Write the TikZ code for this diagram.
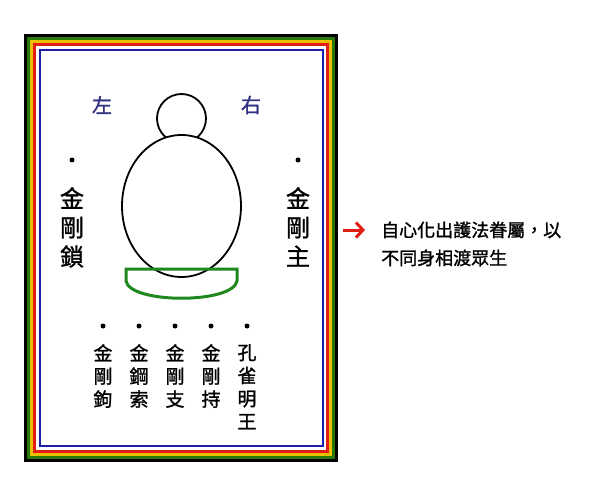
\documentclass[tikz,border=0pt]{standalone}
\usepackage{fontspec}
\newfontfamily\cjk[FakeBold=1.3]{Noto Sans CJK TC}
\usetikzlibrary{arrows.meta,positioning,calc}
\definecolor{framegreen}{RGB}{40,120,10}
\definecolor{frameyellow}{RGB}{235,190,0}
\definecolor{framered}{RGB}{225,30,20}
\definecolor{frameblue}{RGB}{30,30,170}
\definecolor{basegreen}{RGB}{30,135,30}
\definecolor{sidenavy}{RGB}{50,50,130}

\begin{document}
\begin{tikzpicture}[x=1pt, y=-1pt,
    stripe/.style={line width=3pt},
    dot/.style={circle, fill=black, inner sep=0pt, minimum size=5pt},
    vname/.style={font=\cjk\fontsize{24}{29}\selectfont, align=center, anchor=north, inner sep=0pt},
    vsmall/.style={font=\cjk\fontsize{19}{23}\selectfont, align=center, anchor=north, inner sep=0pt}]
    \useasboundingbox (0,0) rectangle (600,500);
    % Coloured frame, outside in
    \foreach \c [count=\i] in {black,framegreen,frameyellow,framered} {
        \draw[stripe, \c] (24+3*\i-1.5, 34+3*\i-1.5) rectangle (338-3*\i+1.5, 462-3*\i+1.5);
    }
    \draw[frameblue, line width=2pt] (39.5, 50) rectangle (322.5, 445.5);
    % Head and body
    \draw[line width=1.8pt] (181.5,118.5) circle (24.5);
    \draw[line width=1.8pt, fill=white] (181.5,206) ellipse (59.5 and 71);
    % Lotus base
    \draw[basegreen, line width=3pt] (126,269) -- (126,281)
        .. controls (130,304) and (233,304) .. (237,281) -- (237,269) -- cycle;
    % Left and right
    \node[font=\cjk\fontsize{20}{24}\selectfont, sidenavy] (left) at (102,105) {左};
    \node[font=\cjk\fontsize{20}{24}\selectfont, sidenavy] (right) at (251,105) {右};
    % Two side attendants
    \node[dot] (dl) at (72,160) {};
    \node[vname] (suo) at (72,187) {金\\剛\\鎖};
    \node[dot] (dr) at (298,160) {};
    \node[vname] (zhu) at (298,187) {金\\剛\\主};
    % Five lower attendants
    \foreach \x/\t/\n in {103/金\\剛\\鉤/gou, 139/金\\鋼\\索/suo2, 175/金\\剛\\支/zhi, 211/金\\剛\\持/chi, 247/孔\\雀\\明\\王/kong} {
        \node[dot] (d\n) at (\x,326) {};
        \node[vsmall] (\n) at (\x,344) {\t};
    }
    % Note on the right
    \node[font=\cjk\fontsize{18}{28}\selectfont, align=left, anchor=west, inner sep=0pt] (note) at (381,244)
        {自心化出護法眷屬，以\\不同身相渡眾生};
    \coordinate (tail) at (343,230);
    \coordinate (head) at (365,230);
    \draw[framered, line width=3pt, -{Straight Barb[length=7pt, width=15pt]}] (tail) -- (head);
\end{tikzpicture}
\end{document}
